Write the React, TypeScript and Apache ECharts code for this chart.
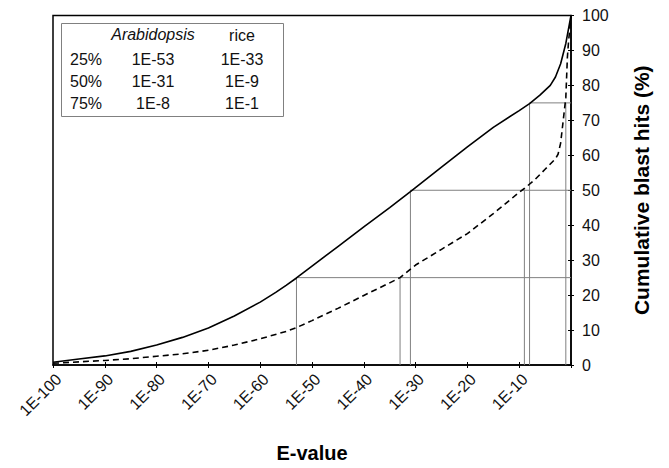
import React, { useEffect, useRef } from "react";
import * as echarts from "echarts";

// Solid curve: Arabidopsis
const arabX = [-100, -95, -90, -85, -80, -75, -70, -65, -60, -57, -55, -53, -50, -45, -40, -35, -31, -25, -20, -15, -10, -8, -6, -4, -3, -2, -1, 0];
const arabY = [0.8, 1.7, 2.6, 3.9, 5.7, 7.9, 10.6, 14.0, 18.0, 20.8, 22.8, 24.9, 28.3, 33.9, 39.5, 45, 49.6, 56.6, 62.4, 68, 72.8, 74.8, 77.2, 80, 82.4, 86.2, 92, 100];

// Dashed curve: rice
const riceX = [-100, -95, -90, -85, -80, -75, -70, -65, -60, -55, -53, -50, -45, -40, -35, -33, -30, -25, -20, -15, -10, -9, -7, -5, -3, -2.5, -2, -1.5, -1, -0.7, -0.5, 0];
const riceY = [0.5, 0.9, 1.3, 1.8, 2.5, 3.2, 4.2, 5.7, 7.5, 9.6, 10.7, 12.7, 16.2, 19.9, 23.5, 25, 28.6, 33.1, 37.6, 43.3, 49.4, 50.5, 53, 56, 59, 60.3, 63.5, 70, 76.5, 88, 92, 100];

// Percentile table
const levels = [25, 50, 75];
const levelLabels = ["25%", "50%", "75%"];
const arabPct = [-53, -31, -8];
const ricePct = [-33, -9, -1];
const tableHeader = ["Arabidopsis", "rice"];

const FONT = "Liberation Sans, Arial, sans-serif";

export default function App() {
  const ref = useRef<HTMLDivElement>(null);
  useEffect(() => {
    document.body.style.margin = "0";
    if (!ref.current) return;
    const chart = echarts.init(ref.current, null, { renderer: "svg" });

    const refSeries: any[] = [];
    const refLine = (data: number[][]) => ({
      type: "line",
      data,
      showSymbol: false,
      lineStyle: { color: "#808080", width: 1 },
      silent: true,
      z: 1,
    });
    levels.forEach((lv, i) => {
      refSeries.push(refLine([[arabPct[i], lv], [0, lv]]));
      refSeries.push(refLine([[arabPct[i], 0], [arabPct[i], lv]]));
      refSeries.push(refLine([[ricePct[i], 0], [ricePct[i], lv]]));
    });

    const tableX = [70, 153, 242];
    const textStyle = (text: string, align: string, italic = false) => ({
      text,
      fontSize: 16,
      fontStyle: italic ? "italic" : "normal",
      fontFamily: FONT,
      fill: "#111",
      align,
      verticalAlign: "middle",
    });
    const graphicEls: any[] = [
      {
        type: "rect",
        shape: { x: 61.5, y: 23.5, width: 222, height: 93 },
        style: { fill: "#fff", stroke: "#808080", lineWidth: 1 },
        z: 100,
      },
      { type: "text", x: tableX[1], y: 34, style: textStyle(tableHeader[0], "center", true), z: 101 },
      { type: "text", x: tableX[2], y: 35, style: textStyle(tableHeader[1], "center"), z: 101 },
    ];
    const rowY = [59, 81, 103];
    levels.forEach((_, i) => {
      graphicEls.push({ type: "text", x: tableX[0], y: rowY[i], style: textStyle(levelLabels[i], "left"), z: 101 });
      graphicEls.push({ type: "text", x: tableX[1], y: rowY[i], style: textStyle("1E" + arabPct[i], "center"), z: 101 });
      graphicEls.push({ type: "text", x: tableX[2], y: rowY[i], style: textStyle("1E" + ricePct[i], "center"), z: 101 });
    });

    chart.setOption({
      animation: false,
      backgroundColor: "#fff",
      textStyle: { fontFamily: FONT },
      grid: {
        left: 53,
        right: 98,
        top: 15.5,
        bottom: 99,
        show: true,
        borderColor: "#000",
        borderWidth: 1.5,
        backgroundColor: "transparent",
      },
      xAxis: [
        {
          type: "value",
          min: -100,
          max: 0,
          interval: 10,
          position: "bottom",
          name: "E-value",
          nameLocation: "middle",
          nameGap: 78,
          nameTextStyle: { fontSize: 20, fontWeight: "bold", color: "#000", fontFamily: FONT },
          axisLine: { show: true, onZero: false, lineStyle: { color: "#000", width: 1.5 } },
          axisTick: { show: true, length: 3, lineStyle: { color: "#000", width: 1 } },
          axisLabel: {
            rotate: 45,
            margin: 6,
            verticalAlign: "top",
            fontSize: 16,
            color: "#111",
            fontFamily: FONT,
            formatter: (v: number) => (v === 0 ? "" : "1E" + v),
          },
          splitLine: { show: false },
        },
        {
          type: "value",
          min: -100,
          max: 0,
          interval: 10,
          position: "bottom",
          axisLine: { show: false },
          axisTick: { show: true, inside: true, length: 3, lineStyle: { color: "#000", width: 1 } },
          axisLabel: { show: false },
          splitLine: { show: false },
        },
      ],
      yAxis: [
        {
          type: "value",
          min: 0,
          max: 100,
          interval: 10,
          position: "right",
          name: "Cumulative blast hits (%)",
          nameLocation: "middle",
          nameRotate: 90,
          nameGap: 60,
          nameTextStyle: { fontSize: 21, fontWeight: "bold", color: "#000", fontFamily: FONT },
          axisLine: { show: true, onZero: false, lineStyle: { color: "#000", width: 1.5 } },
          axisTick: { show: true, length: 3, lineStyle: { color: "#000", width: 1 } },
          axisLabel: { margin: 11, fontSize: 16, color: "#111", fontFamily: FONT },
          splitLine: { show: false },
        },
        {
          type: "value",
          min: 0,
          max: 100,
          interval: 10,
          position: "right",
          axisLine: { show: false },
          axisTick: { show: true, inside: true, length: 3, lineStyle: { color: "#000", width: 1 } },
          axisLabel: { show: false },
          splitLine: { show: false },
        },
      ],
      series: [
        ...refSeries,
        {
          name: "Arabidopsis",
          type: "line",
          data: arabX.map((x, i) => [x, arabY[i]]),
          showSymbol: false,
          lineStyle: { color: "#000", width: 1.6 },
          z: 5,
        },
        {
          name: "rice",
          type: "line",
          data: riceX.map((x, i) => [x, riceY[i]]),
          showSymbol: false,
          lineStyle: { color: "#000", width: 1.6, type: [6, 4] },
          z: 5,
        },
      ],
      graphic: graphicEls,
    });
    return () => chart.dispose();
  }, []);
  return <div ref={ref} style={{ width: 669, height: 468 }} />;
}
